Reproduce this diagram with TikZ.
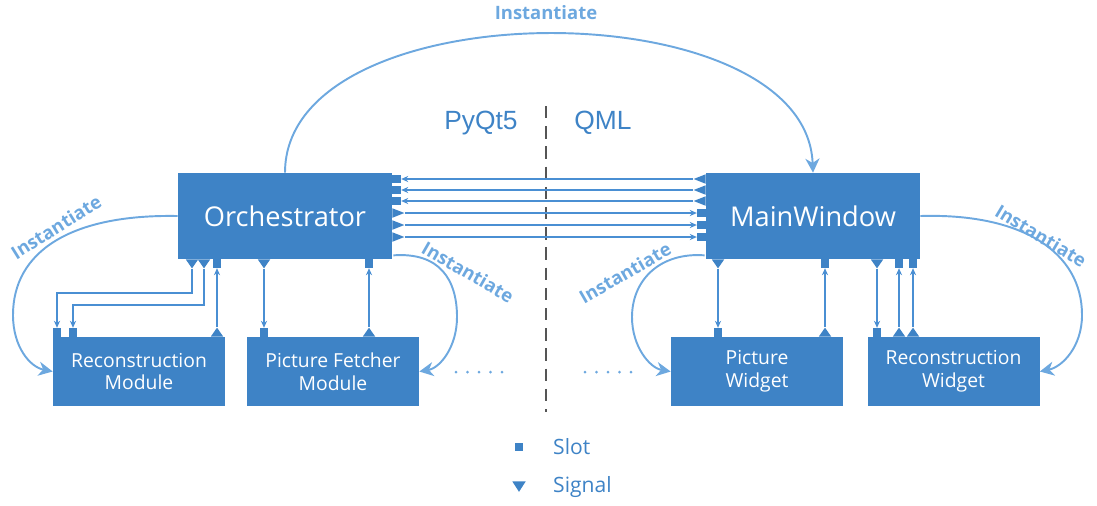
\documentclass[tikz,border=0pt]{standalone}
\usepackage{fontspec}
\setmainfont{Open Sans}
\newfontfamily\qtfont{Liberation Sans}
\usetikzlibrary{arrows.meta,shapes.geometric}
\definecolor{boxblue}{HTML}{3E83C6}
\definecolor{linkblue}{HTML}{4A8FD3}
\definecolor{instblue}{HTML}{6DA8DF}
\definecolor{dashgray}{HTML}{555555}

\begin{document}
\begin{tikzpicture}[x=0.02cm,y=-0.02cm,
    box/.style={fill=boxblue,text=white,inner sep=0pt,align=center},
    bigbox/.style={box,minimum width=4.28cm,minimum height=1.72cm,font=\fontsize{15.5}{18}\selectfont},
    modbox/.style={box,minimum width=3.44cm,minimum height=1.38cm,font=\fontsize{11}{13}\selectfont},
    slot/.style={fill=boxblue,inner sep=0pt,minimum width=0.17cm,minimum height=0.17cm},
    sig/.style={isosceles triangle,isosceles triangle stretches,fill=boxblue,inner sep=0pt},
    sigv/.style={sig,minimum width=0.25cm,minimum height=0.18cm},
    sigh/.style={sig,minimum width=0.19cm,minimum height=0.24cm},
    link/.style={linkblue,line width=0.6pt,-{Stealth[length=4pt,width=3.5pt]}},
    inst/.style={instblue,line width=1.1pt,-{Stealth[length=8pt,width=8pt,inset=2.5pt]}},
    instlbl/.style={text=instblue,font=\fontsize{10.5}{12}\selectfont\bfseries}]
  \useasboundingbox (0,0) rectangle (1097,505);
  % --- main boxes ---
  \node[bigbox] (orch) at (285,216) {Orchestrator};
  \node[bigbox] (mwin) at (813,216) {MainWindow};
  \node[modbox] (recmod) at (139,371.5) {Reconstruction\\Module};
  \node[modbox] (picmod) at (333,371.5) {Picture Fetcher\\Module};
  \node[modbox] (picwid) at (757,371.5) {Picture\\Widget};
  \node[modbox] (recwid) at (953.5,371.5) {Reconstruction\\Widget};
  % PyQt5 / QML split
  \draw[dashgray,line width=1.5pt,dash pattern=on 7pt off 4.5pt] (546,106) -- (546,412);
  \node[text=boxblue,font=\qtfont\fontsize{15}{18}\selectfont] (pyqt) at (481,123) {PyQt5};
  \node[text=boxblue,font=\qtfont\fontsize{15}{18}\selectfont] (qml) at (603,123) {QML};
  % --- Orchestrator <-> MainWindow ---
  \foreach \i/\y in {1/179,2/190,3/201} {
    \node[slot,anchor=west] (oR\i) at (392,\y) {};
    \node[sigh,shape border rotate=180,anchor=lower side] (mS\i) at (706,\y) {};
    \draw[link] (mS\i.apex) -- (oR\i.east);
  }
  \foreach \i/\y in {1/213,2/225,3/237} {
    \node[sigh,anchor=lower side] (oS\i) at (392,\y) {};
    \node[slot,anchor=east] (mR\i) at (706,\y) {};
    \draw[link] (oS\i.apex) -- (mR\i.west);
  }
  % --- Orchestrator ports (bottom) ---
  \node[sigv,shape border rotate=270,anchor=lower side] (oB1) at (192,259) {};
  \node[sigv,shape border rotate=270,anchor=lower side] (oB2) at (204,259) {};
  \node[slot,anchor=north] (oC1) at (217,259) {};
  \node[sigv,shape border rotate=270,anchor=lower side] (oB3) at (264,259) {};
  \node[slot,anchor=north] (oC2) at (369,259) {};
  % module ports (top)
  \node[slot,anchor=south] (rmR1) at (57,337) {};
  \node[slot,anchor=south] (rmR2) at (73,337) {};
  \node[sigv,shape border rotate=90,anchor=lower side] (rmS1) at (217,337) {};
  \node[slot,anchor=south] (pfR) at (264,337) {};
  \node[sigv,shape border rotate=90,anchor=lower side] (pfS) at (369,337) {};
  \coordinate (k1) at (57,293);
  \coordinate (k2) at (73,305);
  \draw[link] (oB1.apex) |- (k1) -- (rmR1.north);
  \draw[link] (oB2.apex) |- (k2) -- (rmR2.north);
  \draw[link] (rmS1.apex) -- (oC1.south);
  \draw[link] (oB3.apex) -- (pfR.north);
  \draw[link] (pfS.apex) -- (oC2.south);
  % --- MainWindow ports (bottom) ---
  \node[sigv,shape border rotate=270,anchor=lower side] (mB1) at (718,259) {};
  \node[slot,anchor=north] (mC1) at (825,259) {};
  \node[sigv,shape border rotate=270,anchor=lower side] (mB2) at (877,259) {};
  \node[slot,anchor=north] (mC2) at (899,259) {};
  \node[slot,anchor=north] (mC3) at (913,259) {};
  % widget ports (top)
  \node[slot,anchor=south] (pwR) at (718,337) {};
  \node[sigv,shape border rotate=90,anchor=lower side] (pwS) at (825,337) {};
  \node[slot,anchor=south] (rwR) at (877,337) {};
  \node[sigv,shape border rotate=90,anchor=lower side] (rwS1) at (899,337) {};
  \node[sigv,shape border rotate=90,anchor=lower side] (rwS2) at (913,337) {};
  \draw[link] (mB1.apex) -- (pwR.north);
  \draw[link] (pwS.apex) -- (mC1.south);
  \draw[link] (mB2.apex) -- (rwR.north);
  \draw[link] (rwS1.apex) -- (mC2.south);
  \draw[link] (rwS2.apex) -- (mC3.south);
  % --- instantiate arcs ---
  \draw[inst] (orch.north) .. controls (285,-12) and (806,-12) .. (mwin.north);
  \node[instlbl] (inst0) at (546,13) {Instantiate};
  \draw[inst] (orch.west) .. controls (70,214) and (13,252) .. (13,315)
    .. controls (13,347) and (30,367) .. (recmod.west);
  \node[instlbl,rotate=32] (inst1) at (56,227) {Instantiate};
  \draw[inst] (orch.south east) ++(1,-4) .. controls (440,252) and (457,280) .. (457,317)
    .. controls (457,347) and (440,368) .. (picmod.east);
  \node[instlbl,rotate=-30] (inst2) at (468,272) {Instantiate};
  \draw[inst] (mwin.south west) ++(-1,-4) .. controls (660,252) and (632,280) .. (632,317)
    .. controls (632,347) and (650,368) .. (picwid.west);
  \node[instlbl,rotate=30] (inst3) at (625,273) {Instantiate};
  \draw[inst] (mwin.east) .. controls (1022,213) and (1082,252) .. (1082,315)
    .. controls (1082,347) and (1062,367) .. (recwid.east);
  \node[instlbl,rotate=-31] (inst4) at (1041,236) {Instantiate};
  % dots
  \foreach \x in {0,...,4} \fill[instblue] (456+11.5*\x,372) circle (1.5);
  \foreach \x in {0,...,4} \fill[instblue] (585+11.5*\x,372) circle (1.5);
  % --- legend ---
  \node[slot,minimum size=0.15cm] (lslot) at (519,447) {};
  \node[text=boxblue,anchor=west,font=\fontsize{12}{14}\selectfont] (lslottxt) at (547,447) {Slot};
  \node[sig,shape border rotate=270,minimum width=0.27cm,minimum height=0.21cm] (lsig) at (519,485) {};
  \node[text=boxblue,anchor=west,font=\fontsize{12}{14}\selectfont] (lsigtxt) at (547,487) {Signal};
\end{tikzpicture}
\end{document}
